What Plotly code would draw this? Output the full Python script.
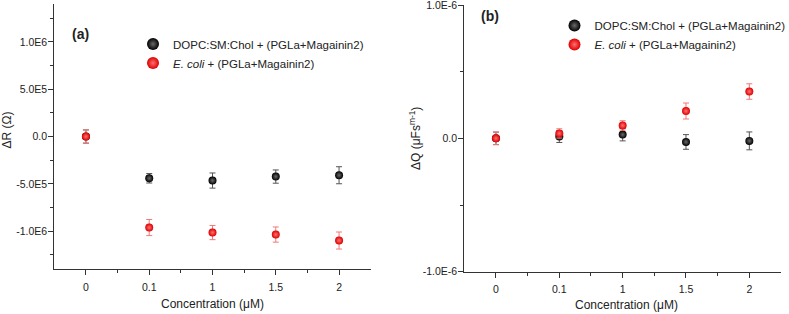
import plotly.graph_objects as go

# ---------------- data ----------------
concentrations = ["0", "0.1", "1", "1.5", "2"]

dR_lipid = [0, -4.41e5, -4.65e5, -4.23e5, -4.09e5]
dR_lipid_err = [7e4, 5e4, 8e4, 7e4, 9e4]
dR_ecoli = [0, -9.62e5, -1.015e6, -1.036e6, -1.099e6]
dR_ecoli_err = [7e4, 8.5e4, 7.5e4, 8e4, 9e4]

dQ_lipid = [0, 1.3e-8, 2.8e-8, -2.7e-8, -1.9e-8]
dQ_lipid_err = [4.7e-8, 4.4e-8, 4.7e-8, 5.5e-8, 6.7e-8]
dQ_ecoli = [0, 3.7e-8, 9.7e-8, 2.05e-7, 3.51e-7]
dQ_ecoli_err = [4.7e-8, 3.5e-8, 3.5e-8, 6.0e-8, 5.8e-8]

R_ticks = [-1e6, -5e5, 0, 5e5, 1e6]
R_ticklabels = ["-1.0E6", "-5.0E5", "0.0", "5.0E5", "1.0E6"]
Q_ticks = [-1e-6, 0, 1e-6]
Q_ticklabels = ["-1.0E-6", "0.0", "1.0E-6"]

name_lipid = "DOPC:SM:Chol + (PGLa+Magainin2)"
name_ecoli = "<i>E. coli</i> + (PGLa+Magainin2)"

# ---------------- layout helpers ----------------
W, H = 789, 314
FONT = "Liberation Sans, Arial, sans-serif"


def px_x(p):
    return p / W


def px_y(p):
    return (H - p) / H


xpos = list(range(len(concentrations)))
minor_x = [i + 0.5 for i in xpos[:-1]]

black_marker = dict(size=8, color="#000000", gradient=dict(type="radial", color="#6a6a6a"),
                    line=dict(width=0))
red_marker = dict(size=8, color="#dd0000", gradient=dict(type="radial", color="#ff7070"),
                  line=dict(width=0))
black_err = dict(thickness=1, width=3, color="#555555")
red_err = dict(thickness=1, width=3, color="#f07a7a")

fig = go.Figure()

# Panel (a)
fig.add_trace(go.Scatter(x=xpos, y=dR_lipid, mode="markers", name=name_lipid,
                         marker=black_marker, xaxis="x", yaxis="y", legend="legend",
                         error_y=dict(type="data", array=dR_lipid_err, **black_err)))
fig.add_trace(go.Scatter(x=xpos, y=dR_ecoli, mode="markers", name=name_ecoli,
                         marker=red_marker, xaxis="x", yaxis="y", legend="legend",
                         error_y=dict(type="data", array=dR_ecoli_err, **red_err)))
# Panel (b)
fig.add_trace(go.Scatter(x=xpos, y=dQ_lipid, mode="markers", name=name_lipid,
                         marker=black_marker, xaxis="x2", yaxis="y2", legend="legend2",
                         error_y=dict(type="data", array=dQ_lipid_err, **black_err)))
fig.add_trace(go.Scatter(x=xpos, y=dQ_ecoli, mode="markers", name=name_ecoli,
                         marker=red_marker, xaxis="x2", yaxis="y2", legend="legend2",
                         error_y=dict(type="data", array=dQ_ecoli_err, **red_err)))

axis_common = dict(showline=True, linecolor="#333333", linewidth=1.2, showgrid=False,
                   zeroline=False, ticks="outside", tickcolor="#333333", tickwidth=1,
                   ticklen=5, automargin=False, ticklabeloverflow="allow",
                   tickfont=dict(family=FONT, size=10.5, color="#222222"))

xaxis_common = dict(axis_common, range=[-0.5, 4.5], tickmode="array", tickvals=xpos,
                    ticktext=concentrations, ticklabelstandoff=3,
                    minor=dict(tickmode="array", tickvals=minor_x, ticklen=3,
                               tickcolor="#333333", ticks="outside"))

legend_font = dict(family=FONT, size=11.5, color="#222222")

fig.update_layout(
    width=W, height=H, autosize=False,
    margin=dict(l=0, r=0, t=0, b=0, autoexpand=False),
    paper_bgcolor="white", plot_bgcolor="white",
    font=dict(family=FONT, color="#222222"),
    xaxis=dict(xaxis_common, domain=[px_x(54.3), px_x(370.7)], anchor="y"),
    yaxis=dict(axis_common, domain=[px_y(269), px_y(4.1)], anchor="x",
               range=[-1.4e6, 1.4e6], tickmode="array", tickvals=R_ticks,
               ticktext=R_ticklabels, ticklabelstandoff=-1,
               minor=dict(dtick=2.5e5, tick0=0, ticklen=3, tickcolor="#333333",
                          ticks="outside")),
    xaxis2=dict(xaxis_common, domain=[px_x(464.3), px_x(781)], anchor="y2"),
    yaxis2=dict(axis_common, domain=[px_y(271.7), px_y(5)], anchor="x2",
                range=[-1e-6, 1e-6], tickmode="array", tickvals=Q_ticks,
                ticktext=Q_ticklabels, ticklabelstandoff=-1,
                minor=dict(dtick=5e-7, tick0=0, ticklen=3, tickcolor="#333333",
                           ticks="outside")),
    legend=dict(x=px_x(133), y=px_y(29.5), xanchor="left", yanchor="top",
                bgcolor="rgba(0,0,0,0)", font=legend_font,
                tracegroupgap=0, itemsizing="constant"),
    legend2=dict(x=px_x(554.5), y=px_y(11), xanchor="left", yanchor="top",
                 bgcolor="rgba(0,0,0,0)", font=legend_font,
                 tracegroupgap=0, itemsizing="constant"),
    showlegend=True,
)

annotations = [
    dict(text="<b>(a)</b>", x=px_x(80), y=px_y(33.7), font=dict(size=14)),
    dict(text="<b>(b)</b>", x=px_x(490), y=px_y(15.7), font=dict(size=14)),
    dict(text="ΔR (Ω)", x=px_x(6.5), y=px_y(130), textangle=-90, font=dict(size=12)),
    dict(text="ΔQ (μFs<sup>m-1</sup>)", x=px_x(415), y=px_y(139), textangle=-90,
         font=dict(size=12)),
    dict(text="Concentration (μM)", x=px_x(213), y=px_y(304), font=dict(size=12)),
    dict(text="Concentration (μM)", x=px_x(626.7), y=px_y(305), font=dict(size=12)),
]
for a in annotations:
    a.update(xref="paper", yref="paper", showarrow=False, xanchor="center",
             yanchor="middle")
    a["font"] = dict(a["font"], family=FONT, color="#222222")
fig.update_layout(annotations=annotations)

# the default html page has an 8px body margin; remove it so the figure sits at (0, 0)
fig.write_html("out.html", config={"displayModeBar": False},
               post_script="document.body.style.margin='0px';")
